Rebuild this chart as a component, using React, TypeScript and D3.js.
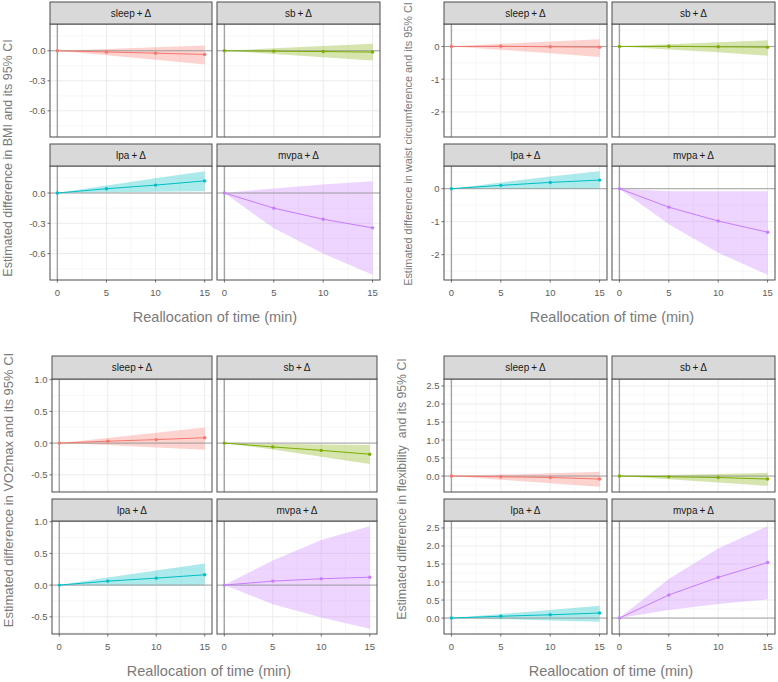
import React from "react";
import * as d3 from "d3";

// reallocated minutes and the four behaviours (facets)
const minutes = [0, 5, 10, 15];
const activities = ["sleep", "sb", "lpa", "mvpa"];
const activityColors = ["#F8766D", "#7CAE00", "#00BFC4", "#C77CFF"];

// BMI
const bmiEstimate = [
  [0, -0.012, -0.024, -0.037],
  [0, -0.004, -0.008, -0.013],
  [0, 0.042, 0.078, 0.12],
  [0, -0.15, -0.26, -0.345],
];
const bmiLower = [
  [0, -0.045, -0.09, -0.137],
  [0, -0.032, -0.064, -0.097],
  [0, 0.006, 0.012, 0.018],
  [0, -0.35, -0.6, -0.81],
];
const bmiUpper = [
  [0, 0.018, 0.036, 0.053],
  [0, 0.024, 0.047, 0.07],
  [0, 0.075, 0.145, 0.216],
  [0, 0.045, 0.083, 0.116],
];

// waist circumference
const waistEstimate = [
  [0, 0.005, -0.01, -0.02],
  [0, 0.005, -0.01, -0.02],
  [0, 0.1, 0.19, 0.26],
  [0, -0.56, -0.98, -1.32],
];
const waistLower = [
  [0, -0.1, -0.21, -0.32],
  [0, -0.09, -0.18, -0.28],
  [0, -0.01, -0.01, -0.01],
  [0, -1.08, -1.94, -2.61],
];
const waistUpper = [
  [0, 0.08, 0.15, 0.22],
  [0, 0.065, 0.13, 0.19],
  [0, 0.19, 0.37, 0.53],
  [0, -0.08, -0.08, -0.08],
];

// VO2max
const vo2Estimate = [
  [0, 0.03, 0.055, 0.085],
  [0, -0.06, -0.115, -0.175],
  [0, 0.063, 0.11, 0.163],
  [0, 0.063, 0.1, 0.125],
];
const vo2Lower = [
  [0, -0.03, -0.07, -0.105],
  [0, -0.1, -0.215, -0.33],
  [0, -0.005, -0.005, -0.005],
  [0, -0.3, -0.51, -0.69],
];
const vo2Upper = [
  [0, 0.08, 0.165, 0.245],
  [0, -0.01, -0.02, -0.03],
  [0, 0.12, 0.23, 0.34],
  [0, 0.39, 0.71, 0.93],
];

// flexibility
const flexEstimate = [
  [0, -0.02, -0.04, -0.083],
  [0, -0.02, -0.04, -0.083],
  [0, 0.05, 0.09, 0.14],
  [0, 0.64, 1.13, 1.54],
];
const flexLower = [
  [0, -0.1, -0.2, -0.3],
  [0, -0.09, -0.18, -0.27],
  [0, -0.03, -0.065, -0.1],
  [0, 0.22, 0.39, 0.52],
];
const flexUpper = [
  [0, 0.04, 0.08, 0.12],
  [0, 0.03, 0.06, 0.09],
  [0, 0.11, 0.225, 0.34],
  [0, 1.08, 1.93, 2.55],
];

const bmiTicks = [0, -0.3, -0.6];
const waistTicks = [0, -1, -2];
const vo2Ticks = [1, 0.5, 0, -0.5];
const flexTicks = [2.5, 2, 1.5, 1, 0.5, 0];
const xTicks = [0, 5, 10, 15];

const xTitle = "Reallocation of time (min)";
const bmiTitle = "Estimated difference in BMI and its 95% CI";
const waistTitle = "Estimated difference in waist circumference and its 95% CI";
const vo2Title = "Estimated difference in VO2max and its 95% CI";
const flexTitle = "Estimated difference in flexibility\u00a0 and its 95% CI";

const FONT = "'Liberation Sans', Arial, Helvetica, sans-serif";
const minus = (s: string) => s.replace("\u2212", "-");
const fmt1 = (v: number) => minus(d3.format(".1f")(v));
const fmt0 = (v: number) => minus(d3.format("d")(v));

const topRows = [
  [2, 24, 24, 137],
  [144, 166, 166, 280],
];
const bottomRows = [
  [356, 379, 379, 492],
  [499, 521, 521, 634],
];
const leftCols = [
  [50, 212],
  [217, 380],
];
const rightCols = [
  [444, 607],
  [612, 775],
];

const quadrants = [
  { est: bmiEstimate, lo: bmiLower, hi: bmiUpper, ticks: bmiTicks, fmt: fmt1, title: bmiTitle,
    cols: leftCols, rows: topRows, titleX: 8, titleY: 158, titleSize: 12.5, xTitleX: 215 },
  { est: waistEstimate, lo: waistLower, hi: waistUpper, ticks: waistTicks, fmt: fmt0, title: waistTitle,
    cols: rightCols, rows: topRows, titleX: 408, titleY: 144, titleSize: 10.9, xTitleX: 612 },
  { est: vo2Estimate, lo: vo2Lower, hi: vo2Upper, ticks: vo2Ticks, fmt: fmt1, title: vo2Title,
    cols: [[52, 212], [217, 377]], rows: bottomRows,
    titleX: 8, titleY: 490, titleSize: 13, xTitleX: 209 },
  { est: flexEstimate, lo: flexLower, hi: flexUpper, ticks: flexTicks, fmt: fmt1, title: flexTitle,
    cols: rightCols, rows: bottomRows, titleX: 402, titleY: 489, titleSize: 12.3, xTitleX: 611 },
];

function Quadrant({ q }: { q: (typeof quadrants)[number] }) {
  const [mn, mx] = d3.extent([...q.lo.flat(), ...q.hi.flat()]) as [number, number];
  const pad = (mx - mn) * 0.05;
  const yDomain = [mn - pad, mx + pad];
  const step = Math.abs(q.ticks[0] - q.ticks[1]);
  const half = step / 2;
  // minor grid halfway between the major breaks, as ggplot does
  const minorY = d3
    .range(Math.floor(yDomain[0] / half) * half, yDomain[1], half)
    .filter((v) => v >= yDomain[0] && Math.abs(Math.round(v / step) * step - v) > 1e-6);
  const bottomY = q.rows[1][3];

  return (
    <g>
      {activities.map((name, i) => {
        const [xa, xb] = q.cols[i % 2];
        const [sa, sb, pa, pb] = q.rows[Math.floor(i / 2)];
        const x = d3.scaleLinear().domain([-0.75, 15.75]).range([xa, xb]);
        const y = d3.scaleLinear().domain(yDomain).range([pb, pa]);
        const color = activityColors[i];
        const area = d3
          .area<number>()
          .x((_, j) => x(minutes[j]))
          .y0((d) => y(d))
          .y1((_, j) => y(q.hi[i][j]));
        const line = d3
          .line<number>()
          .x((_, j) => x(minutes[j]))
          .y((d) => y(d));
        const isLeft = i % 2 === 0;
        const isBottom = i >= 2;
        return (
          <g key={name}>
            <rect x={xa} y={pa} width={xb - xa} height={pb - pa} fill="#fff" />
            {[2.5, 7.5, 12.5].map((t) => (
              <line key={"mx" + t} x1={x(t)} x2={x(t)} y1={pa} y2={pb} stroke="#f2f2f2" strokeWidth={0.6} />
            ))}
            {minorY.map((t) => (
              <line key={"my" + t} x1={xa} x2={xb} y1={y(t)} y2={y(t)} stroke="#f2f2f2" strokeWidth={0.6} />
            ))}
            {xTicks.map((t) => (
              <line key={"gx" + t} x1={x(t)} x2={x(t)} y1={pa} y2={pb} stroke="#ebebeb" strokeWidth={1} />
            ))}
            {q.ticks.map((t) => (
              <line key={"gy" + t} x1={xa} x2={xb} y1={y(t)} y2={y(t)} stroke="#ebebeb" strokeWidth={1} />
            ))}
            <path d={area(q.lo[i]) ?? ""} fill={color} fillOpacity={0.32} />
            <line x1={xa} x2={xb} y1={y(0)} y2={y(0)} stroke="#9a9a9a" strokeWidth={0.9} />
            <line x1={x(0)} x2={x(0)} y1={pa} y2={pb} stroke="#a3a3a3" strokeWidth={1.4} />
            <path d={line(q.est[i]) ?? ""} fill="none" stroke={color} strokeWidth={1} />
            {q.est[i].map((v, j) => (
              <circle key={j} cx={x(minutes[j])} cy={y(v)} r={1.7} fill={color} />
            ))}
            <rect x={xa} y={pa} width={xb - xa} height={pb - pa} fill="none" stroke="#4d4d4d" strokeWidth={1} />
            <rect x={xa} y={sa} width={xb - xa} height={sb - sa} fill="#d9d9d9" stroke="#4d4d4d" strokeWidth={1} />
            <text
              x={(xa + xb) / 2}
              y={(sa + sb) / 2}
              textAnchor="middle"
              dominantBaseline="central"
              fontSize={10}
              fill="#1a1a1a"
              fontFamily={FONT}
            >
              {`${name}\u2009+\u2009Δ`}
            </text>
            {isLeft &&
              q.ticks.map((t) => (
                <g key={"ty" + t}>
                  <line x1={xa - 2.5} x2={xa} y1={y(t)} y2={y(t)} stroke="#4d4d4d" strokeWidth={0.8} />
                  <text
                    x={xa - 4.5}
                    y={y(t)}
                    textAnchor="end"
                    dominantBaseline="central"
                    fontSize={9.5}
                    fill="#5c5c5c"
                    fontFamily={FONT}
                  >
                    {q.fmt(t)}
                  </text>
                </g>
              ))}
            {isBottom &&
              xTicks.map((t) => (
                <g key={"tx" + t}>
                  <line x1={x(t)} x2={x(t)} y1={pb} y2={pb + 2.5} stroke="#4d4d4d" strokeWidth={0.8} />
                  <text
                    x={x(t)}
                    y={pb + 12}
                    textAnchor="middle"
                    dominantBaseline="central"
                    fontSize={9.5}
                    fill="#5c5c5c"
                    fontFamily={FONT}
                  >
                    {t}
                  </text>
                </g>
              ))}
          </g>
        );
      })}
      <text
        x={q.xTitleX}
        y={bottomY + 37}
        textAnchor="middle"
        dominantBaseline="central"
        fontSize={14.5}
        fill="#7a7a7a"
        fontFamily={FONT}
      >
        {xTitle}
      </text>
      <text
        transform={`translate(${q.titleX},${q.titleY}) rotate(-90)`}
        textAnchor="middle"
        dominantBaseline="central"
        fontSize={q.titleSize}
        fill="#7a7a7a"
        fontFamily={FONT}
      >
        {q.title}
      </text>
    </g>
  );
}

export default function App() {
  return (
    <svg
      width={778}
      height={682}
      style={{ position: "absolute", left: 0, top: 0, background: "#fff" }}
    >
      {quadrants.map((q, k) => (
        <Quadrant key={k} q={q} />
      ))}
    </svg>
  );
}
